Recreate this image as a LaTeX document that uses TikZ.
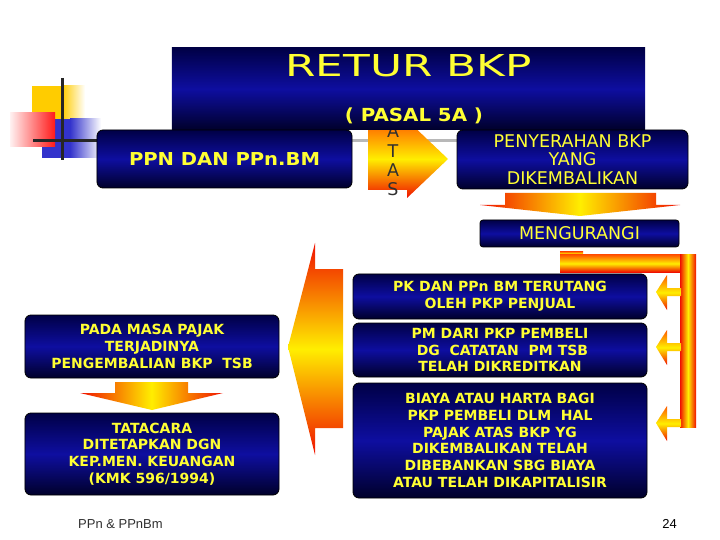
\documentclass[tikz,border=0pt]{standalone}
\usepackage{fontspec}
\setmainfont{DejaVu Sans}
\newfontfamily\widefont[FakeStretch=1.45]{DejaVu Sans}
\newfontfamily\semiwide[FakeStretch=1.1]{DejaVu Sans}
\newfontfamily\footfont{Liberation Sans}
\definecolor{ylw}{HTML}{FFFF33}
\definecolor{navyD}{HTML}{000046}
\definecolor{navyM}{HTML}{0E0EA0}
\definecolor{navyB}{HTML}{00002A}
\definecolor{arRed}{HTML}{F01000}
\definecolor{arOrg}{HTML}{FF5A00}
\definecolor{arYel}{HTML}{FFEE00}
\definecolor{decoY}{HTML}{FFCC00}
\definecolor{decoB}{HTML}{3333CC}
\definecolor{decoR}{HTML}{FF1A1A}
\definecolor{txtgray}{HTML}{303030}
\tikzset{
  box/.style={rounded corners=6bp, draw=black, line width=0.8bp,
    top color=navyD, bottom color=navyB, middle color=navyM,
    inner sep=0pt, align=center, text=ylw},
  bsmall/.style={font=\bfseries\fontsize{14bp}{16.8bp}\selectfont},
  rlarge/.style={font=\fontsize{17.5bp}{18.6bp}\selectfont},
  vshade/.style={top color=arOrg, bottom color=arRed, middle color=arYel},
  hshade/.style={left color=arRed, right color=arRed, middle color=arYel},
  atas/.style={text=txtgray, font=\fontsize{17.5bp}{18bp}\selectfont, anchor=base, inner sep=0pt}
}
\begin{document}
\begin{tikzpicture}[x=1bp,y=-1bp]
\useasboundingbox (0,0) rectangle (720,540);
\fill[white] (0,0) rectangle (720,540);
% template decoration
\fill[decoY] (32,86) rectangle (62,119);
\shade[left color=decoY, right color=white] (62,86) rectangle (85,119);
\fill[decoB] (42,119) rectangle (70,158);
\shade[left color=decoB, right color=white] (70,119) rectangle (101,158);
\shade[left color=decoR!6, right color=decoR] (10,113) rectangle (55,147);
\draw[line width=3bp, color=black!85] (62,78) -- (62,160);
\draw[line width=3bp, color=black!85] (33,141) -- (97,141);
\draw[line width=3bp, color=black!28] (97,141) -- (680,141);
% ATAS arrow (behind title)
\shade[vshade] (368,128) -- (407,128) -- (407,120) -- (448,159) -- (407,198) -- (407,190) -- (368,190) -- cycle;
\node[atas] (a1) at (393,138) {A};
\node[atas] (t1) at (393,158) {T};
\node[atas] (a2) at (393,177) {A};
\node[atas] (s1) at (393,196) {S};
% title
\node[top color=navyD, bottom color=navyB, middle color=navyM, minimum width=473bp, minimum height=82bp, inner sep=0pt] (titlebox) at (408.5,89) {};
\node[anchor=base, text=ylw, inner sep=0pt, font=\widefont\fontsize{30.2bp}{32bp}\selectfont] (title) at (408.5,77) {RETUR BKP};
\node[anchor=base, text=ylw, inner sep=0pt, font=\semiwide\bfseries\fontsize{18bp}{20bp}\selectfont] (pasal) at (414,122) {( PASAL 5A )};
% top boxes
\node[box, minimum width=255bp, minimum height=58bp, font=\semiwide\bfseries\fontsize{17.8bp}{20bp}\selectfont] (ppn) at (224.5,159) {PPN DAN PPn.BM};
\node[box, rlarge, minimum width=231bp, minimum height=59bp] (serah) at (572.5,159.5) {PENYERAHAN BKP\\YANG\\DIKEMBALIKAN};
\shade[hshade] (505,193) -- (656,193) -- (656,205) -- (680,205) -- (580,216) -- (480,205) -- (505,205) -- cycle;
\node[box, rlarge, rounded corners=3bp, minimum width=199bp, minimum height=27bp] (kurang) at (579.5,233.5) {MENGURANGI};
% orange connector
\shade[vshade] (560,251.5) rectangle (583,256);
\shade[vshade] (560,255) rectangle (688,272);
\shade[hshade] (680,255) rectangle (696,427);
\foreach \yc in {292,347,423}{
  \shade[vshade] (681,\yc-4) -- (667,\yc-4) -- (667,\yc-17) -- (656,\yc) -- (667,\yc+18) -- (667,\yc+4) -- (681,\yc+4) -- cycle;
}
% right boxes
\node[box, bsmall, minimum width=294bp, minimum height=45bp] (pk) at (500,296.5) {PK DAN PPn BM TERUTANG\\OLEH PKP PENJUAL};
\node[box, bsmall, minimum width=294bp, minimum height=54bp] (pm) at (500,350) {PM DARI PKP PEMBELI\\~DG~~CATATAN~~PM TSB\\TELAH DIKREDITKAN};
\node[box, bsmall, minimum width=294bp, minimum height=115bp] (biaya) at (500,440.5) {BIAYA ATAU HARTA BAGI\\PKP PEMBELI DLM~~HAL\\PAJAK ATAS BKP YG\\DIKEMBALIKAN TELAH\\DIBEBANKAN SBG BIAYA\\ATAU TELAH DIKAPITALISIR};
% big left arrow
\shade[top color=arRed, bottom color=arRed, middle color=arYel] (343,269) -- (315,269) -- (315,243) -- (288,347) -- (315,455) -- (315,428) -- (343,428) -- cycle;
% left boxes
\node[box, bsmall, minimum width=254bp, minimum height=63bp] (pada) at (152,346.5) {PADA MASA PAJAK\\TERJADINYA\\PENGEMBALIAN BKP~~TSB};
\shade[hshade] (115,382) -- (188,382) -- (188,393) -- (223,393) -- (152,410) -- (80,393) -- (115,393) -- cycle;
\node[box, bsmall, minimum width=254bp, minimum height=82bp] (tata) at (152,454) {TATACARA\\DITETAPKAN DGN\\KEP.MEN. KEUANGAN\\(KMK 596/1994)};
% footer
\node[anchor=base west, inner sep=0pt, text=txtgray, font=\footfont\fontsize{13bp}{14bp}\selectfont] (foot) at (78,528) {PPn \& PPnBm};
\node[anchor=base east, inner sep=0pt, text=black, font=\footfont\fontsize{13bp}{14bp}\selectfont] (page) at (677,528) {24};
\end{tikzpicture}
\end{document}
